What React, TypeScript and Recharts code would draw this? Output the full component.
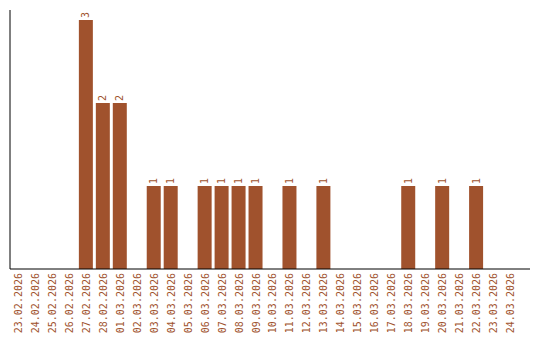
import { BarChart, Bar, XAxis, YAxis, LabelList } from 'recharts'

const dates = [
  '23.02.2026', '24.02.2026', '25.02.2026', '26.02.2026', '27.02.2026',
  '28.02.2026', '01.03.2026', '02.03.2026', '03.03.2026', '04.03.2026',
  '05.03.2026', '06.03.2026', '07.03.2026', '08.03.2026', '09.03.2026',
  '10.03.2026', '11.03.2026', '12.03.2026', '13.03.2026', '14.03.2026',
  '15.03.2026', '16.03.2026', '17.03.2026', '18.03.2026', '19.03.2026',
  '20.03.2026', '21.03.2026', '22.03.2026', '23.03.2026', '24.03.2026',
]

const counts = [
  0, 0, 0, 0, 3,
  2, 2, 0, 1, 1,
  0, 1, 1, 1, 1,
  0, 1, 0, 1, 0,
  0, 0, 0, 1, 0,
  1, 0, 1, 0, 0,
]

const data = dates.map((date, i) => ({ date, count: counts[i] }))

const BROWN = '#A0522D'
const FONT = '"DejaVu Sans Mono", monospace'

function DateTick({ x, y, payload }: any) {
  return (
    <g transform={`translate(${x}, 273) rotate(-90)`}>
      <text
        x={0}
        y={0}
        dy="0.35em"
        textAnchor="end"
        fill={BROWN}
        fontSize={10}
        fontFamily={FONT}
      >
        {payload.value}
      </text>
    </g>
  )
}

function ValueLabel({ x, y, width, value }: any) {
  if (!value) return null
  const cx = x + width / 2
  const ty = y - 2
  return (
    <g transform={`translate(${cx}, ${ty}) rotate(-90)`}>
      <text
        x={0}
        y={0}
        dy="0.35em"
        textAnchor="start"
        fill={BROWN}
        fontSize={10}
        fontFamily={FONT}
      >
        {value}
      </text>
    </g>
  )
}

export default function App() {
  return (
    <div style={{ position: 'absolute', left: 0, top: 0, background: 'white' }}>
      <BarChart
        width={540}
        height={340}
        data={data}
        margin={{ top: 10, right: 10, bottom: 0, left: 9 }}
        barSize={14}
      >
        <XAxis
          dataKey="date"
          interval={0}
          tick={<DateTick />}
          tickLine={false}
          axisLine={{ stroke: '#000' }}
          height={71}
          padding={{ left: 0, right: 11 }}
        />
        <YAxis
          width={1}
          domain={[0, 3.12]}
          tick={false}
          tickLine={false}
          axisLine={{ stroke: '#000' }}
        />
        <Bar dataKey="count" fill={BROWN} isAnimationActive={false}>
          <LabelList dataKey="count" content={<ValueLabel />} />
        </Bar>
      </BarChart>
    </div>
  )
}
